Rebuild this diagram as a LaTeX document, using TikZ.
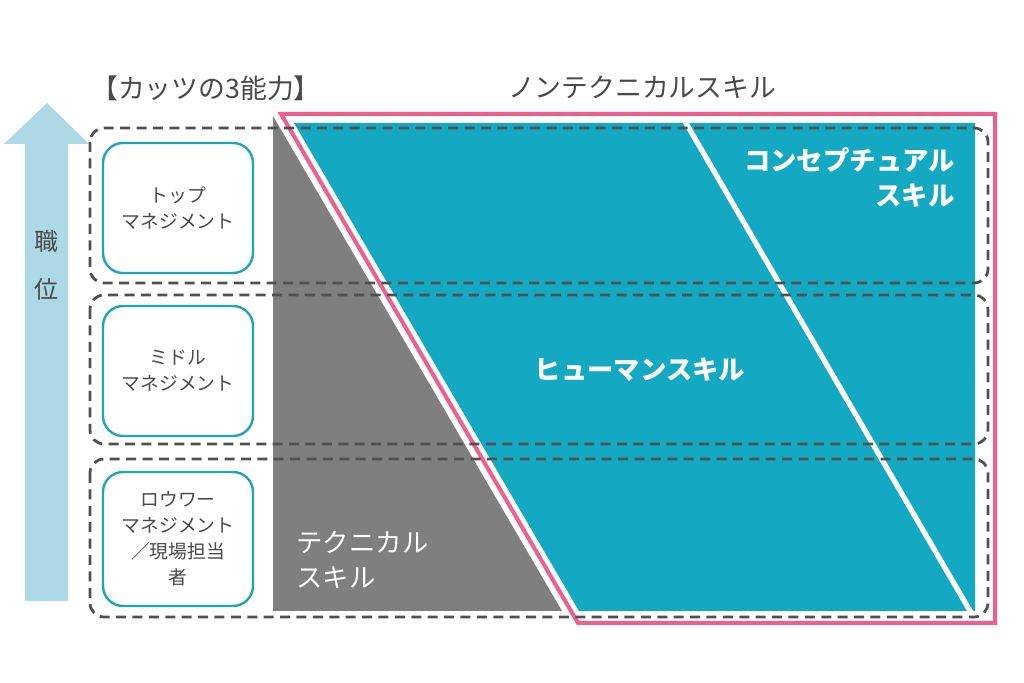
\documentclass[tikz,border=0pt]{standalone}
\usepackage{fontspec}
\usepackage{tikz}
\newfontfamily\jp{Noto Sans CJK JP}
\definecolor{skillblue}{HTML}{14A9C3}
\definecolor{skillgray}{HTML}{7F7F7F}
\definecolor{framepink}{HTML}{EE5F8F}
\definecolor{arrowblue}{HTML}{ADD8E6}
\definecolor{boxline}{HTML}{1FA4BE}
\definecolor{txtgray}{HTML}{4A4A4A}
\definecolor{dashgray}{HTML}{505050}
\tikzset{
	rowbox/.style={draw=dashgray, line width=1.4pt, dash pattern=on 5pt off 3.2pt, rounded corners=7pt},
	levelbox/.style={draw=boxline, line width=1.2pt, rounded corners=10pt, fill=white, minimum width=75pt, minimum height=65pt, align=center, text=txtgray, font=\jp\fontsize{9.4}{13}\selectfont},
	skilltext/.style={text=white, font=\jp\bfseries\fontsize{13.2}{17.5}\selectfont, inner sep=0pt},
	headtext/.style={text=txtgray, font=\jp\fontsize{13.4}{15}\selectfont, inner sep=0pt}
}
\begin{document}
\begin{tikzpicture}[x=0.5pt, y=-0.5pt]
\useasboundingbox (0,0) rectangle (1024,683);

% rank arrow
\fill[arrowblue] (25,601) -- (25,144) -- (4,144) -- (47,103) -- (89,144) -- (68,144) -- (68,601) -- cycle;
\node (rank) at (46,265) [headtext, align=center, font=\jp\fontsize{12}{24}\selectfont] {職\\位};

\node (title) at (206,88) [headtext] {【カッツの3能力】};
\node (nontech) at (642,87) [headtext] {ノンテクニカルスキル};

% skill areas
\fill[skillgray] (273,116) -- (273,116) -- (562,611) -- (273,611) -- cycle;
\draw[framepink, line width=2pt] (281,114) -- (995,114) -- (995,623) -- (578,623) -- cycle;
\begin{scope}
	\clip (294,123) -- (975,123) -- (975,611) -- (579,611) -- cycle;
	\fill[skillblue] (294,123) -- (975,123) -- (975,611) -- (579,611) -- cycle;
	\draw[white, line width=2.6pt] (683,118) -- (973,616);
\end{scope}

\node (concept) at (955,178) [skilltext, anchor=east, align=right] {コンセプチュアル\\スキル};
\node (human) at (640,370) [skilltext] {ヒューマンスキル};
\node (tech) at (296,560) [skilltext, anchor=west, align=left, font=\jp\fontsize{13.2}{17.5}\selectfont] {テクニカル\\スキル};

% levels
\draw[rowbox] (90,128) rectangle (988,283);
	\node (top) at (178,208) [levelbox] {トップ\\マネジメント};
\draw[rowbox] (90,295) rectangle (988,444);
	\node (middle) at (178,371) [levelbox] {ミドル\\マネジメント};
\draw[rowbox] (90,459) rectangle (988,617);
	\node (lower) at (178,539) [levelbox, minimum height=67pt] {ロウワー\\マネジメント\\／現場担当\\者};

\end{tikzpicture}
\end{document}
